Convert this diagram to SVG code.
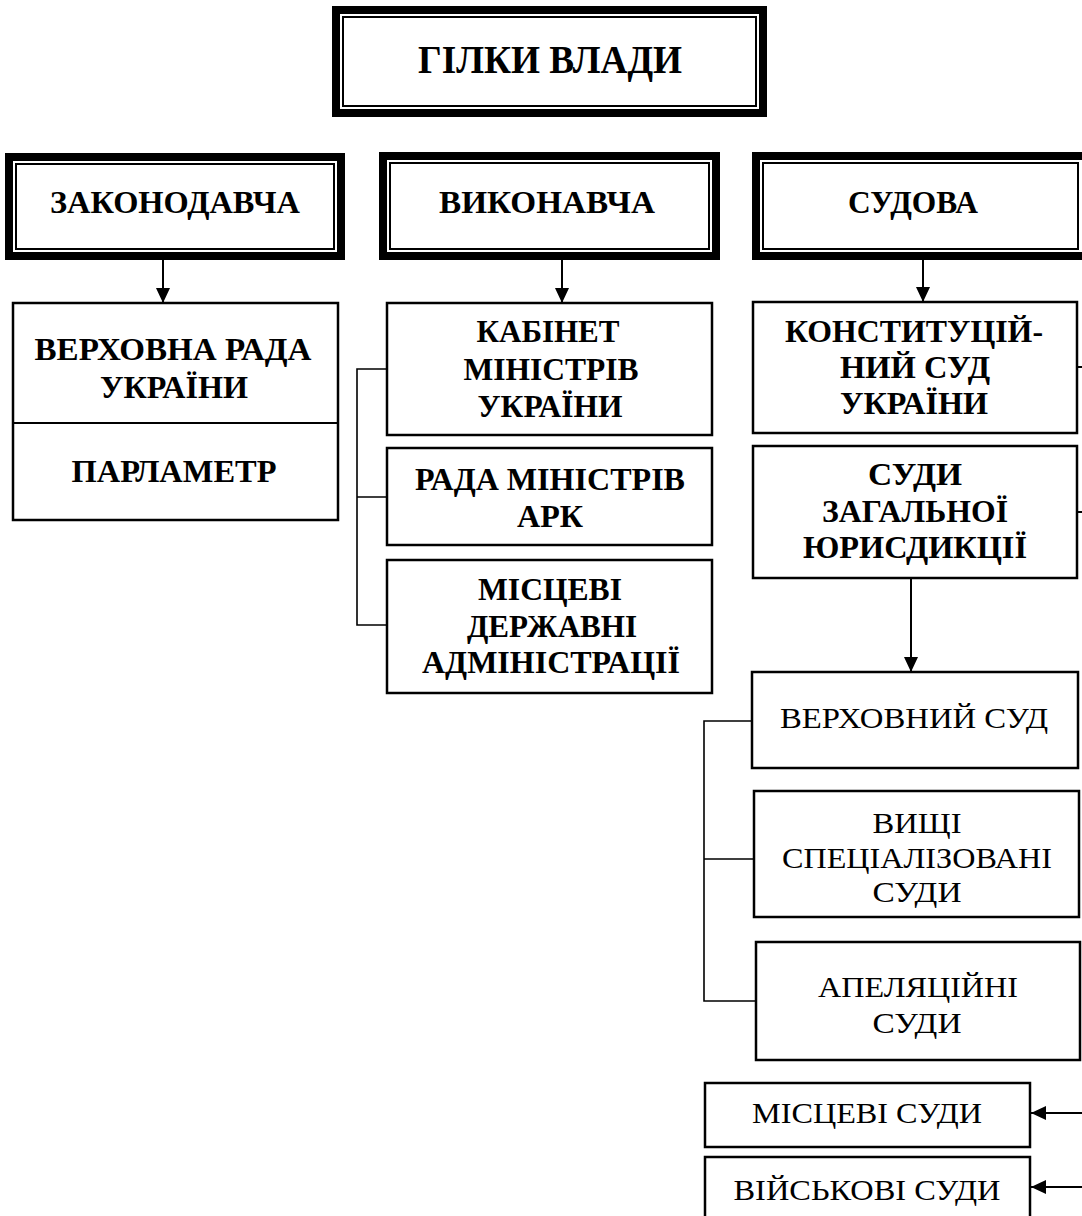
<svg xmlns="http://www.w3.org/2000/svg" width="1082" height="1216" viewBox="0 0 1082 1216">
<defs>
<marker id="arr" markerUnits="userSpaceOnUse" markerWidth="16" markerHeight="16" refX="15" refY="7" orient="auto">
<path d="M0,0 L15,7 L0,14 Z" fill="#000"/>
</marker>
<style>
.thick{fill:#fff;stroke:#000;stroke-width:8}
.thin{fill:none;stroke:#000;stroke-width:2}
.box{fill:#fff;stroke:#000;stroke-width:2.5}
.b{font-family:"Liberation Serif","Times New Roman",serif;font-weight:bold;font-size:32px;text-anchor:middle;fill:#000}
.r{font-family:"Liberation Serif","Times New Roman",serif;font-size:30px;text-anchor:middle;fill:#000}
.c{fill:none;stroke:#000;stroke-width:2}
.br{fill:none;stroke:#000;stroke-width:1.6}
</style>
</defs>
<rect width="1082" height="1216" fill="#fff"/>

<g id="connectors">
<line class="c" x1="163" y1="260" x2="163" y2="303" marker-end="url(#arr)"/>
<line class="c" x1="562" y1="260" x2="562" y2="303" marker-end="url(#arr)"/>
<line class="c" x1="923" y1="260" x2="923" y2="302" marker-end="url(#arr)"/>
<line class="c" x1="911" y1="578" x2="911" y2="672" marker-end="url(#arr)"/>
<path class="br" d="M387,369 H357 V625 H387 M357,497 H387"/>
<path class="br" d="M752,721 H704 V1001 H756 M704,859 H754"/>
<line class="c" x1="1077" y1="367" x2="1082" y2="367"/>
<line class="c" x1="1077" y1="512" x2="1082" y2="512"/>
<line class="c" x1="1082" y1="1113" x2="1031" y2="1113" marker-end="url(#arr)"/>
<line class="c" x1="1082" y1="1187" x2="1031" y2="1187" marker-end="url(#arr)"/>
</g>

<g id="gilky">
<rect class="thick" x="336" y="10" width="427" height="103"/>
<rect class="thin" x="343" y="17" width="413" height="89"/>
<text class="b" x="550" y="73" style="font-size:40px" textLength="264" lengthAdjust="spacingAndGlyphs">ГІЛКИ ВЛАДИ</text>
</g>

<g id="zakonodavcha">
<rect class="thick" x="9" y="157" width="332" height="99"/>
<rect class="thin" x="16" y="164" width="318" height="85"/>
<text class="b" x="175" y="213" textLength="250" lengthAdjust="spacingAndGlyphs">ЗАКОНОДАВЧА</text>
</g>

<g id="vykonavcha">
<rect class="thick" x="383" y="156" width="333" height="100"/>
<rect class="thin" x="390" y="163" width="319" height="86"/>
<text class="b" x="547" y="213" textLength="216" lengthAdjust="spacingAndGlyphs">ВИКОНАВЧА</text>
</g>

<g id="sudova">
<rect class="thick" x="756" y="156" width="340" height="100"/>
<rect class="thin" x="763" y="163" width="315" height="86"/>
<text class="b" x="913" y="213" textLength="130" lengthAdjust="spacingAndGlyphs">СУДОВА</text>
</g>

<g id="verkhovna-rada">
<rect class="box" x="13" y="303" width="325" height="217"/>
<line class="c" x1="13" y1="423" x2="338" y2="423"/>
<text class="b" x="173" y="360" textLength="277" lengthAdjust="spacingAndGlyphs">ВЕРХОВНА РАДА</text>
<text class="b" x="174" y="398" textLength="148" lengthAdjust="spacingAndGlyphs">УКРАЇНИ</text>
<text class="b" x="174" y="482" textLength="205" lengthAdjust="spacingAndGlyphs">ПАРЛАМЕТР</text>
</g>

<g id="kabinet">
<rect class="box" x="387" y="303" width="325" height="132"/>
<text class="b" x="548" y="342" textLength="143" lengthAdjust="spacingAndGlyphs">КАБІНЕТ</text>
<text class="b" x="551" y="380" textLength="175" lengthAdjust="spacingAndGlyphs">МІНІСТРІВ</text>
<text class="b" x="550" y="417" textLength="145" lengthAdjust="spacingAndGlyphs">УКРАЇНИ</text>
</g>

<g id="rada-ark">
<rect class="box" x="387" y="448" width="325" height="97"/>
<text class="b" x="550" y="490" textLength="270" lengthAdjust="spacingAndGlyphs">РАДА МІНІСТРІВ</text>
<text class="b" x="550" y="527" textLength="66" lengthAdjust="spacingAndGlyphs">АРК</text>
</g>

<g id="mistsevi-admin">
<rect class="box" x="387" y="560" width="325" height="133"/>
<text class="b" x="550" y="600" textLength="144" lengthAdjust="spacingAndGlyphs">МІСЦЕВІ</text>
<text class="b" x="552" y="637" textLength="170" lengthAdjust="spacingAndGlyphs">ДЕРЖАВНІ</text>
<text class="b" x="551" y="673" textLength="258" lengthAdjust="spacingAndGlyphs">АДМІНІСТРАЦІЇ</text>
</g>

<g id="konst-sud">
<rect class="box" x="753" y="302" width="324" height="131"/>
<text class="b" x="914" y="342" textLength="258" lengthAdjust="spacingAndGlyphs">КОНСТИТУЦІЙ-</text>
<text class="b" x="915" y="378" textLength="150" lengthAdjust="spacingAndGlyphs">НИЙ СУД</text>
<text class="b" x="914" y="414" textLength="148" lengthAdjust="spacingAndGlyphs">УКРАЇНИ</text>
</g>

<g id="sudy-zag">
<rect class="box" x="753" y="446" width="324" height="132"/>
<text class="b" x="915" y="485" textLength="94" lengthAdjust="spacingAndGlyphs">СУДИ</text>
<text class="b" x="915" y="522" textLength="186" lengthAdjust="spacingAndGlyphs">ЗАГАЛЬНОЇ</text>
<text class="b" x="915" y="558" textLength="224" lengthAdjust="spacingAndGlyphs">ЮРИСДИКЦІЇ</text>
</g>

<g id="verkhovnyi-sud">
<rect class="box" x="752" y="672" width="326" height="96"/>
<text class="r" x="914" y="728" textLength="268" lengthAdjust="spacingAndGlyphs">ВЕРХОВНИЙ СУД</text>
</g>

<g id="vyshchi">
<rect class="box" x="754" y="791" width="325" height="126"/>
<text class="r" x="917" y="833" textLength="89" lengthAdjust="spacingAndGlyphs">ВИЩІ</text>
<text class="r" x="917" y="868" textLength="270" lengthAdjust="spacingAndGlyphs">СПЕЦІАЛІЗОВАНІ</text>
<text class="r" x="917" y="902" textLength="89" lengthAdjust="spacingAndGlyphs">СУДИ</text>
</g>

<g id="apeliatsiini">
<rect class="box" x="756" y="942" width="324" height="118"/>
<text class="r" x="918" y="997" textLength="200" lengthAdjust="spacingAndGlyphs">АПЕЛЯЦІЙНІ</text>
<text class="r" x="917" y="1033" textLength="89" lengthAdjust="spacingAndGlyphs">СУДИ</text>
</g>

<g id="mistsevi-sudy">
<rect class="box" x="705" y="1083" width="325" height="64"/>
<text class="r" x="867" y="1123" textLength="230" lengthAdjust="spacingAndGlyphs">МІСЦЕВІ СУДИ</text>
</g>

<g id="viiskovi-sudy">
<rect class="box" x="705" y="1157" width="325" height="70"/>
<text class="r" x="867" y="1200" textLength="267" lengthAdjust="spacingAndGlyphs">ВІЙСЬКОВІ СУДИ</text>
</g>
</svg>
